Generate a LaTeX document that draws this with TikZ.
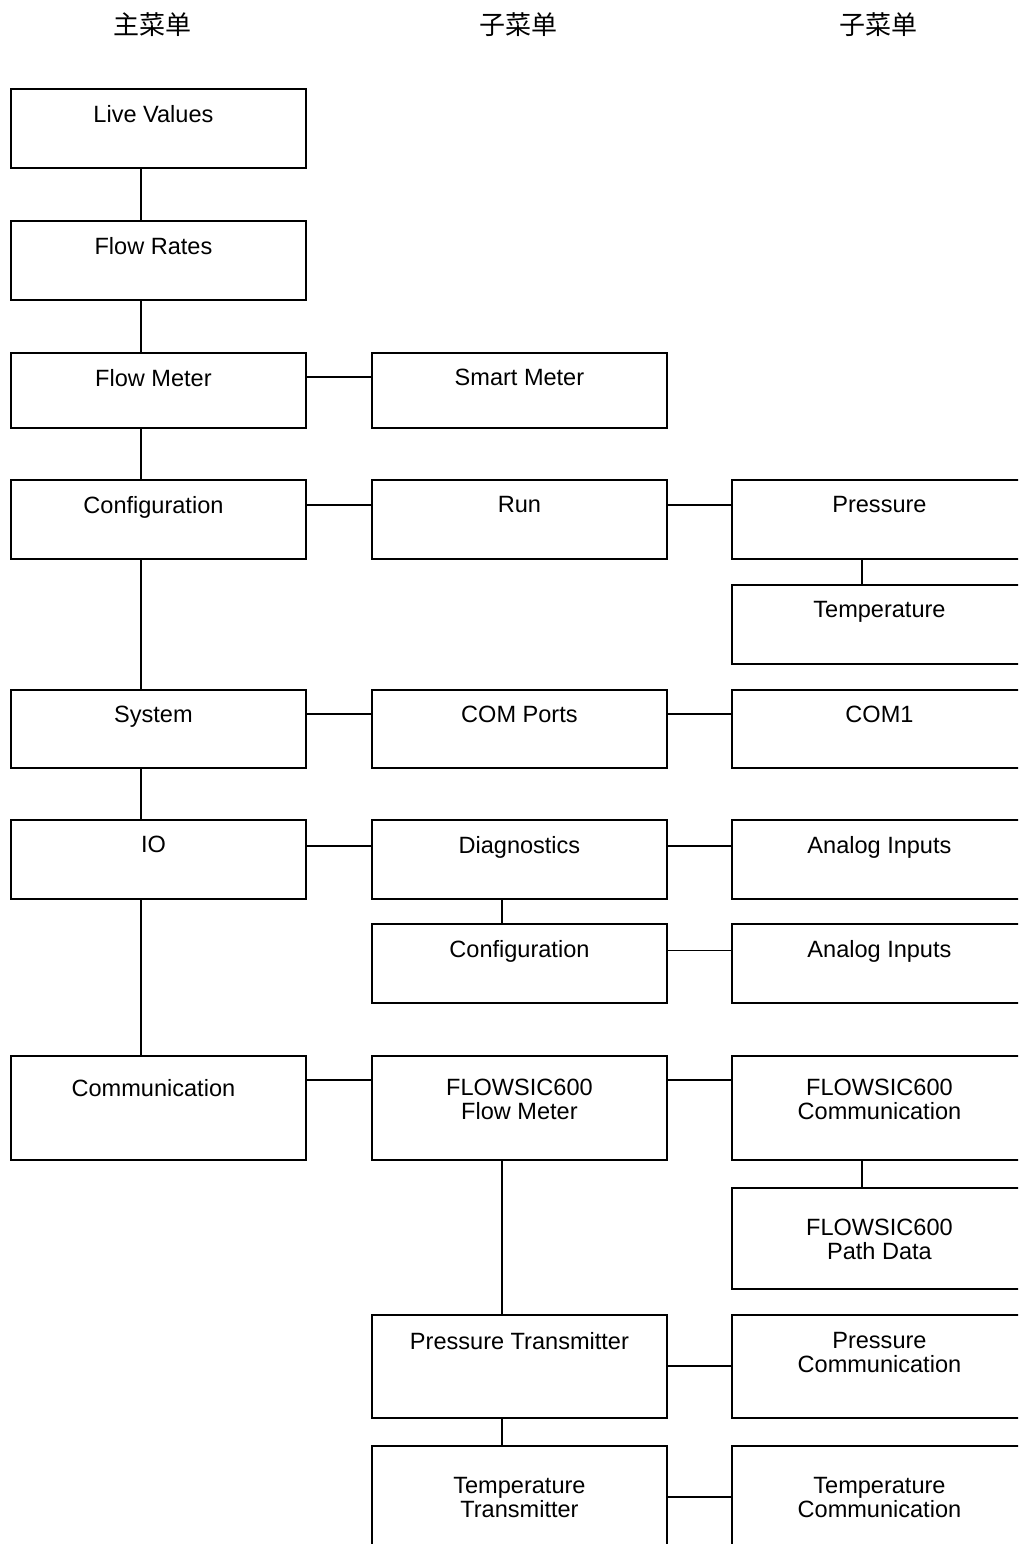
\documentclass[tikz,border=0pt]{standalone}
\usepackage{fontspec}
\setmainfont{Liberation Sans}
\newfontfamily\cjk{Noto Sans CJK SC}

\begin{document}
\begin{tikzpicture}
  [x=0.02cm, y=-0.02cm,
   box/.style = {draw, rectangle, anchor=north west, line width=1.1pt,
                 minimum width=5.9cm, inner sep=0},
   lbl/.style = {anchor=north, inner sep=0, align=center, yshift=-0.34cm,
                 font=\fontsize{13.4}{13.7}\selectfont},
   head/.style = {font=\cjk\fontsize{14.8}{16}\selectfont},
   link/.style = {line width=1pt}]
  \path[use as bounding box, clip] (0,0) rectangle (1018,1544);

  % column titles
  \node[head] (h1) at (152.5,25) {主菜单};
  \node[head] (h2) at (518,25) {子菜单};
  \node[head] (h3) at (878,25) {子菜单};

  % main menu
  \node[box, minimum height=1.58cm, label={[lbl, xshift=-0.1cm]north:Live Values}] (lv) at (10,88) {};
  \node[box, minimum height=1.58cm, label={[lbl, xshift=-0.1cm]north:Flow Rates}] (fr) at (10,220) {};
  \node[box, minimum height=1.5cm, label={[lbl, xshift=-0.1cm]north:Flow Meter}] (fm) at (10,352) {};
  \node[box, minimum height=1.58cm, label={[lbl, xshift=-0.1cm]north:Configuration}] (cf) at (10,479) {};
  \node[box, minimum height=1.56cm, label={[lbl, xshift=-0.1cm]north:System}] (sy) at (10,689) {};
  \node[box, minimum height=1.58cm, label={[lbl, xshift=-0.1cm]north:IO}] (io) at (10,819) {};
  \node[box, minimum height=2.08cm, label={[lbl, xshift=-0.1cm, yshift=-0.14cm]north:Communication}] (cm) at (10,1055) {};

  % first sub menu
  \node[box, minimum height=1.5cm, label={[lbl]north:Smart Meter}] (sm) at (371,352) {};
  \node[box, minimum height=1.58cm, label={[lbl]north:Run}] (run) at (371,479) {};
  \node[box, minimum height=1.56cm, label={[lbl]north:COM Ports}] (cp) at (371,689) {};
  \node[box, minimum height=1.58cm, label={[lbl]north:Diagnostics}] (dg) at (371,819) {};
  \node[box, minimum height=1.58cm, label={[lbl]north:Configuration}] (cf2) at (371,923) {};
  \node[box, minimum height=2.08cm, label={[lbl, yshift=-0.14cm]north:FLOWSIC600\\ Flow Meter}] (fsm) at (371,1055) {};
  \node[box, minimum height=2.06cm, label={[lbl, yshift=-0.02cm]north:Pressure Transmitter}] (pt) at (371,1314) {};
  \node[box, minimum height=3.1cm, label={[lbl, yshift=-0.3cm]north:Temperature\\Transmitter}] (tt) at (371,1445) {};

  % second sub menu
  \node[box, minimum height=1.58cm, label={[lbl]north:Pressure}] (pr) at (731,479) {};
  \node[box, minimum height=1.58cm, label={[lbl]north:Temperature}] (tp) at (731,584) {};
  \node[box, minimum height=1.56cm, label={[lbl]north:COM1}] (com1) at (731,689) {};
  \node[box, minimum height=1.58cm, label={[lbl]north:Analog Inputs}] (ai1) at (731,819) {};
  \node[box, minimum height=1.58cm, label={[lbl]north:Analog Inputs}] (ai2) at (731,923) {};
  \node[box, minimum height=2.08cm, label={[lbl, yshift=-0.14cm]north:FLOWSIC600\\Communication}] (fsc) at (731,1055) {};
  \node[box, minimum height=2.02cm, label={[lbl, yshift=-0.3cm]north:FLOWSIC600\\Path Data}] (fpd) at (731,1187) {};
  \node[box, minimum height=2.06cm, label={[lbl, yshift=-0.02cm]north:Pressure\\Communication}] (pc) at (731,1314) {};
  \node[box, minimum height=3.1cm, label={[lbl, yshift=-0.3cm]north:Temperature\\Communication}] (tc) at (731,1445) {};

  % vertical links
  \foreach \a/\b in {lv/fr, fr/fm, fm/cf, cf/sy, sy/io, io/cm, dg/cf2, fsm/pt, pt/tt, pr/tp, fsc/fpd}
    \draw[link] ([xshift=2.62cm]\a.south west) -- ([xshift=2.62cm]\b.north west);

  % horizontal links
  \draw[link] ([yshift=-0.5cm]fm.north east) -- ([yshift=-0.5cm]sm.north west);
  \draw[link] ([yshift=-0.52cm]cf.north east) -- ([yshift=-0.52cm]run.north west);
  \draw[link] ([yshift=-0.52cm]run.north east) -- ([yshift=-0.52cm]pr.north west);
  \draw[link] ([yshift=-0.5cm]sy.north east) -- ([yshift=-0.5cm]cp.north west);
  \draw[link] ([yshift=-0.5cm]cp.north east) -- ([yshift=-0.5cm]com1.north west);
  \draw[link] ([yshift=-0.54cm]io.north east) -- ([yshift=-0.54cm]dg.north west);
  \draw[link] ([yshift=-0.54cm]dg.north east) -- ([yshift=-0.54cm]ai1.north west);
  \draw[link] ([yshift=-0.55cm]cf2.north east) -- ([yshift=-0.55cm]ai2.north west);
  \draw[link] ([yshift=-0.5cm]cm.north east) -- ([yshift=-0.5cm]fsm.north west);
  \draw[link] ([yshift=-0.5cm]fsm.north east) -- ([yshift=-0.5cm]fsc.north west);
  \draw[link] ([yshift=-1.04cm]pt.north east) -- ([yshift=-1.04cm]pc.north west);
  \draw[link] ([yshift=-1.04cm]tt.north east) -- ([yshift=-1.04cm]tc.north west);
\end{tikzpicture}
\end{document}
